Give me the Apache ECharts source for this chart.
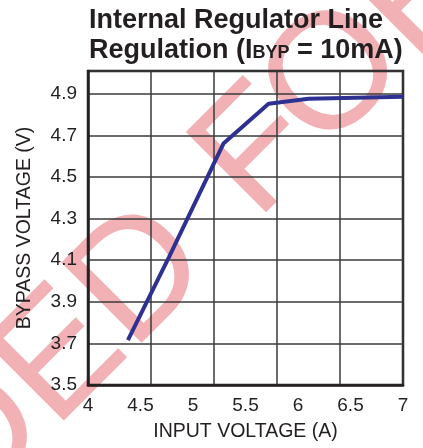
<!DOCTYPE html>
<html><head><meta charset="utf-8">
<script src="https://cdn.jsdelivr.net/npm/echarts@6/dist/echarts.min.js"></script>
<style>html,body{margin:0;padding:0;background:#fff}#c{width:423px;height:448px}</style>
</head><body><div id="c"></div>
<script>
const inputVoltage = [4.38, 4.77, 5.29, 5.72, 6.10, 7.0];
const bypassVoltage = [3.716, 4.114, 4.661, 4.853, 4.877, 4.886];
const xTicks = [4, 4.5, 5, 5.5, 6, 6.5, 7];
const yTicks = [3.5, 3.7, 3.9, 4.1, 4.3, 4.5, 4.7, 4.9];
const stampLetters = ['D', 'E', 'D', 'F', 'O', 'R'];
const stampCenters = [[-20, 440], [61, 359], [142, 278], [260, 154], [336, 78], [424, -10]];

const chart = echarts.init(document.getElementById('c'));
const font = '"Liberation Sans", Arial, sans-serif';
const ink = '#231f20';
const stamp = stampLetters.map((ch, i) => ({
  type: 'text', z: -10, x: stampCenters[i][0], y: stampCenters[i][1], rotation: Math.PI / 4, silent: true,
  style: { text: ch, fill: '#f2b1b4', fontSize: 165, fontFamily: 'Liberation Sans', align: 'center', verticalAlign: 'middle' }
}));
chart.setOption({
  animation: false,
  backgroundColor: '#fff',
  title: {
    text: 'Internal Regulator Line\nRegulation (I{s|BYP} = 10mA)',
    left: 84, top: 1,
    textStyle: {
      fontFamily: font, fontWeight: 'bold', fontSize: 27, color: ink, lineHeight: 30,
      rich: { s: { fontFamily: font, fontWeight: 'bold', fontSize: 18, color: ink, lineHeight: 30, verticalAlign: 'bottom', padding: [0,0,4,0] } }
    }
  },
  graphic: stamp,
  grid: { left: 88, right: 20, top: 71, bottom: 63, show: true, borderColor: '#231f20', borderWidth: 2.5, backgroundColor: 'transparent' },
  xAxis: [
    { type: 'value', min: xTicks[0], max: xTicks[xTicks.length - 1], interval: 0.5,
      name: 'INPUT VOLTAGE (A)', nameLocation: 'middle', nameGap: 37,
      nameTextStyle: { fontFamily: font, fontSize: 19.5, color: ink },
      axisLine: { show: true, lineStyle: { color: '#231f20', width: 2.5 } },
      axisTick: { show: false }, splitLine: { show: false },
      axisLabel: { fontFamily: font, fontSize: 19, color: ink, margin: 11 } },
    { type: 'value', min: 0, max: 5, interval: 1, position: 'top',
      axisLine: { show: false }, axisTick: { show: false }, axisLabel: { show: false },
      splitLine: { show: true, lineStyle: { color: '#3a3a3a', width: 1.5 } } }
  ],
  yAxis: {
    type: 'value', min: yTicks[0], max: 5.01, interval: 0.2,
    name: 'BYPASS VOLTAGE (V)', nameLocation: 'middle', nameGap: 53, nameRotate: 90,
    nameTextStyle: { fontFamily: font, fontSize: 19.5, color: ink },
    axisLine: { show: true, lineStyle: { color: '#231f20', width: 2.5 } },
    axisTick: { show: false },
    splitLine: { show: true, lineStyle: { color: '#3a3a3a', width: 1.5 } },
    axisLabel: { fontFamily: font, fontSize: 19, color: ink, margin: 11, showMaxLabel: false,
      formatter: v => yTicks.some(t => Math.abs(t - v) < 1e-6) ? v.toFixed(1) : '' }
  },
  series: [{
    type: 'line', xAxisIndex: 0, z: 5,
    data: inputVoltage.map((x, i) => [x, bypassVoltage[i]]),
    showSymbol: false, symbol: 'none',
    lineStyle: { color: '#2e3192', width: 4 }
  }]
});
</script></body></html>
